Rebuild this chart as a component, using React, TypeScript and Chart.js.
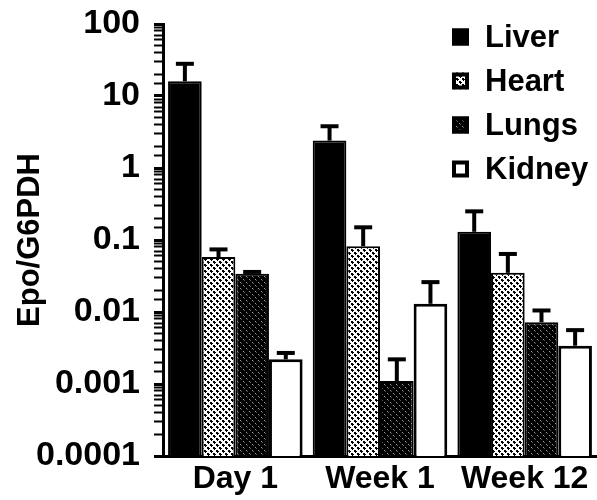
import React, { useEffect, useRef } from 'react';
import { Chart, registerables } from 'chart.js';
Chart.register(...registerables);

const categories = ['Day 1', 'Week 1', 'Week 12'];
const seriesNames = ['Liver', 'Heart', 'Lungs', 'Kidney'];
const liverValues = [16, 2.4, 0.13];
const heartValues = [0.058, 0.082, 0.035];
const lungsValues = [0.034, 0.0011, 0.0072];
const kidneyValues = [0.0022, 0.013, 0.0034];
const liverErrTop = [28, 3.8, 0.25];
const heartErrTop = [0.074, 0.15, 0.064];
const lungsErrTop = [0.036, 0.0022, 0.0105];
const kidneyErrTop = [0.0027, 0.026, 0.0056];
const yTickLabels = ['0.0001', '0.001', '0.01', '0.1', '1', '10', '100'];

const FONT = '"Liberation Sans", Arial, sans-serif';

function makePattern(kind: 'light' | 'dark'): CanvasPattern | string {
  const c = document.createElement('canvas');
  c.width = 6;
  c.height = 6;
  const g = c.getContext('2d');
  if (!g) return '#888';
  if (kind === 'light') {
    g.fillStyle = '#fff';
    g.fillRect(0, 0, 6, 6);
    g.fillStyle = '#000';
    const dot = (x: number, y: number) => {
      g.fillRect(x, y + 1, 3, 1);
      g.fillRect(x + 1, y, 1, 3);
      g.fillRect(x, y, 2, 2);
    };
    dot(0, 0);
    dot(3, 3);
  } else {
    g.fillStyle = '#000';
    g.fillRect(0, 0, 6, 6);
    g.fillStyle = '#9a9a9a';
    g.fillRect(0, 0, 1, 1);
    g.fillRect(3, 3, 1, 1);
    g.fillStyle = '#555';
    g.fillRect(1, 1, 1, 1);
    g.fillRect(4, 4, 1, 1);
  }
  const p = g.createPattern(c, 'repeat');
  return p || '#888';
}

const errorBarPlugin = {
  id: 'errorBars',
  afterDatasetsDraw(chart: any) {
    const ctx = chart.ctx;
    const yScale = chart.scales.y;
    chart.data.datasets.forEach((ds: any, i: number) => {
      const meta = chart.getDatasetMeta(i);
      const errs: number[] = ds.errTop;
      meta.data.forEach((el: any, j: number) => {
        const yTop = el.y;
        const yErr = yScale.getPixelForValue(errs[j]);
        ctx.save();
        ctx.strokeStyle = '#000';
        ctx.lineWidth = 4;
        ctx.beginPath();
        ctx.moveTo(el.x, yTop);
        ctx.lineTo(el.x, yErr);
        ctx.stroke();
        ctx.beginPath();
        ctx.moveTo(el.x - 9, yErr);
        ctx.lineTo(el.x + 9, yErr);
        ctx.stroke();
        ctx.restore();
      });
    });
  },
};

const legendPlugin = {
  id: 'boxLegend',
  afterDraw(chart: any) {
    const ctx = chart.ctx;
    const area = chart.chartArea;
    const boxX = area.right - 145;
    const startY = 37;
    const step = 44;
    const box = 17;
    ctx.save();
    chart.data.datasets.forEach((ds: any, i: number) => {
      const cy = startY + i * step;
      ctx.fillStyle = ds.backgroundColor;
      ctx.fillRect(boxX, cy - box / 2, box, box);
      ctx.strokeStyle = '#000';
      ctx.lineWidth = 4;
      ctx.strokeRect(boxX + 2, cy - box / 2 + 2, box - 4, box - 4);
      ctx.fillStyle = '#000';
      ctx.font = `bold 31px ${FONT}`;
      ctx.textBaseline = 'middle';
      ctx.textAlign = 'left';
      ctx.fillText(ds.label, boxX + 33, cy + 1);
    });
    ctx.restore();
  },
};

export default function App() {
  const ref = useRef<HTMLCanvasElement | null>(null);
  useEffect(() => {
    if (!ref.current) return;
    const light = makePattern('light');
    const dark = makePattern('dark');
    const chart = new Chart(ref.current, {
      type: 'bar',
      data: {
        labels: categories,
        datasets: [
          { label: seriesNames[0], data: liverValues, errTop: liverErrTop, backgroundColor: '#000', borderColor: '#000', borderWidth: 2 } as any,
          { label: seriesNames[1], data: heartValues, errTop: heartErrTop, backgroundColor: light, borderColor: '#000', borderWidth: 2 } as any,
          { label: seriesNames[2], data: lungsValues, errTop: lungsErrTop, backgroundColor: dark, borderColor: '#000', borderWidth: 2 } as any,
          { label: seriesNames[3], data: kidneyValues, errTop: kidneyErrTop, backgroundColor: '#fff', borderColor: '#000', borderWidth: 3 } as any,
        ],
      },
      options: {
        animation: false,
        responsive: false,
        maintainAspectRatio: false,
        layout: { padding: { top: 24, right: 0, bottom: 0, left: 0 } },
        datasets: { bar: { categoryPercentage: 0.93, barPercentage: 1.0, borderSkipped: 'bottom' } },
        plugins: { legend: { display: false }, tooltip: { enabled: false } },
        scales: {
          x: {
            type: 'category',
            grid: { display: false, drawTicks: false },
            border: { display: true, color: '#000', width: 3 },
            ticks: { color: '#000', font: { family: FONT, size: 32, weight: 'bold' }, padding: 4, maxRotation: 0 },
            afterFit: (s: any) => { s.height = 44; s.paddingLeft = 0; s.paddingRight = 0; },
          },
          y: {
            type: 'logarithmic',
            min: 0.0001,
            max: 100,
            grid: {
              drawOnChartArea: false,
              drawTicks: true,
              tickLength: 9,
              tickColor: '#000',
              tickWidth: (c: any) => (c.tick && c.tick.major ? 3 : 2),
            },
            border: { display: true, color: '#000', width: 3 },
            ticks: {
              autoSkip: false,
              color: '#000',
              padding: 14,
              font: { family: FONT, size: 34, weight: 'bold' },
              major: { enabled: true },
              callback: (v: any) => {
                const l = Math.log10(Number(v));
                const r = Math.round(l);
                if (Math.abs(l - r) < 1e-6) return yTickLabels[r + 4] ?? '';
                return '';
              },
            },
            title: { display: true, text: 'Epo/G6PDH', color: '#000', font: { family: FONT, size: 31, weight: 'bold' }, padding: { top: 12, bottom: 0 } },
            afterFit: (s: any) => { s.width = 163; s.paddingTop = 0; s.paddingBottom = 0; },
          },
        },
      },
      plugins: [errorBarPlugin, legendPlugin],
    } as any);
    return () => chart.destroy();
  }, []);
  return (
    <div style={{ position: 'fixed', left: 0, top: 0, width: 597, height: 500, background: '#fff' }}>
      <canvas ref={ref} width={597} height={500} style={{ display: 'block' }} />
    </div>
  );
}
